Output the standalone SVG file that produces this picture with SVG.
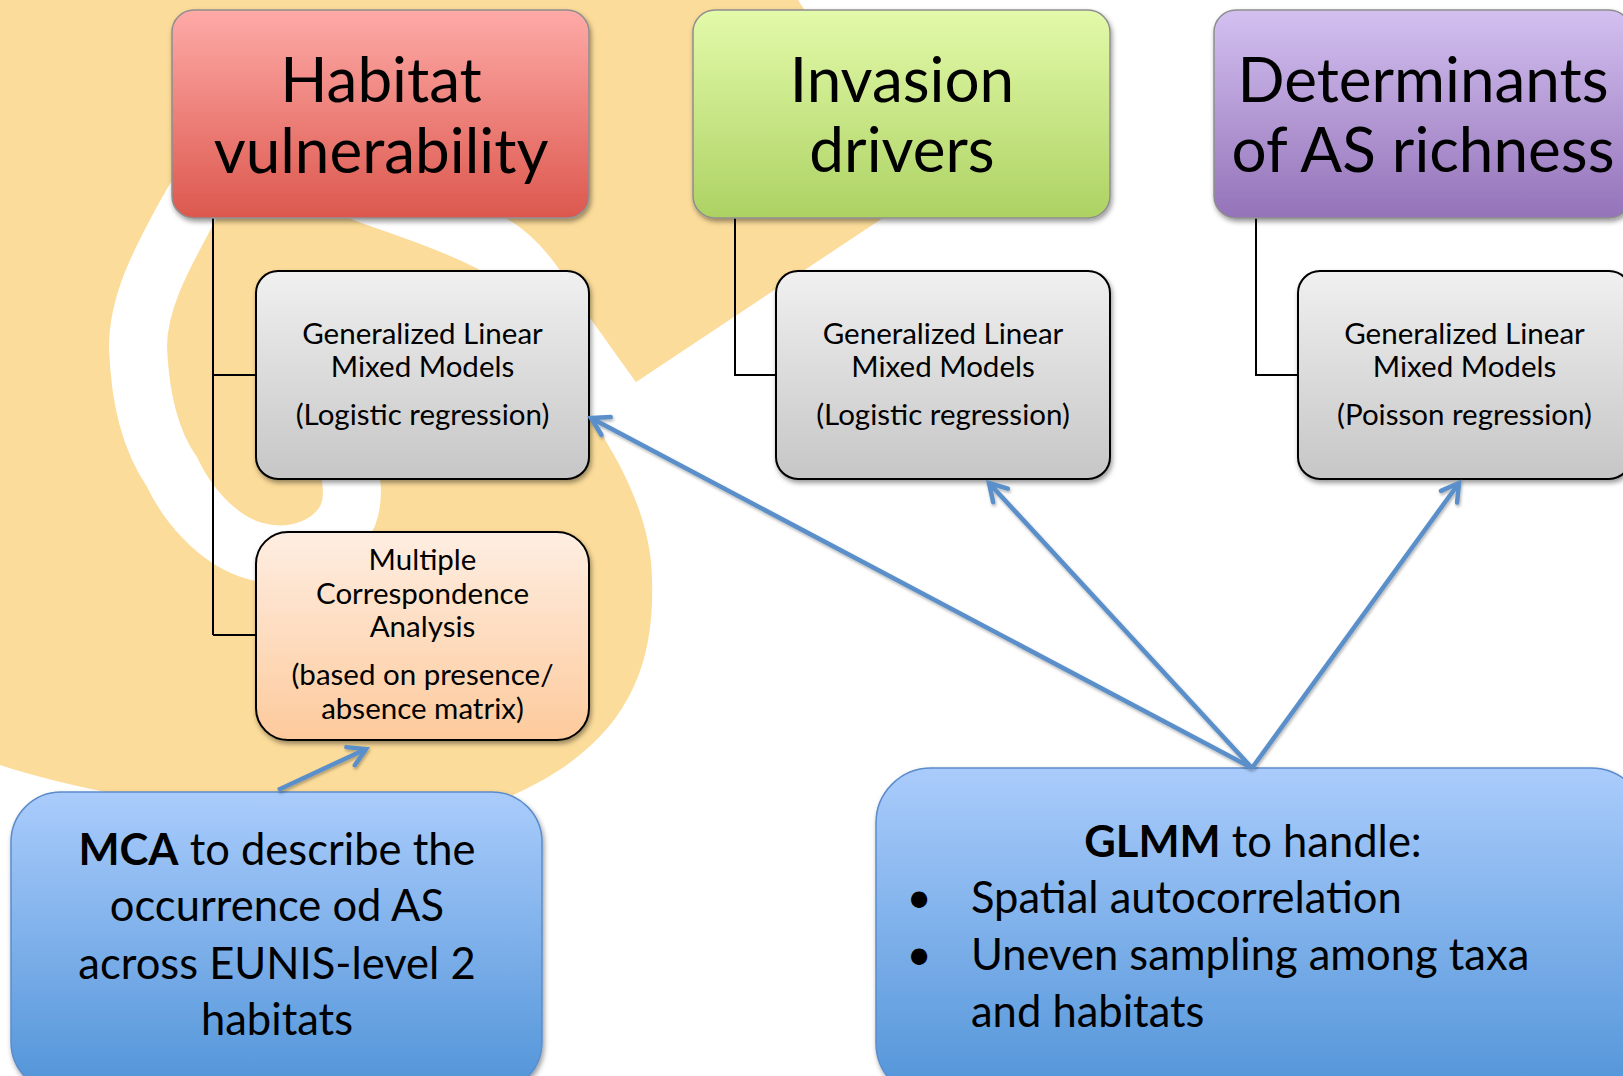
<svg xmlns="http://www.w3.org/2000/svg" width="1623" height="1076" viewBox="0 0 1623 1076">
<defs>
<style>
.t{font-family:Lato,"Liberation Sans",sans-serif;fill:#000;text-anchor:middle}
.hd{font-size:62px}
.sb{font-size:29.5px}
.bl{font-size:43.5px}
.lft{text-anchor:start}
.hbox{stroke:#8e8e8e;stroke-width:1.5}
.sbox{stroke:#000;stroke-width:2}
.bbox{stroke:#5b8ccb;stroke-width:1.5}
.tree{fill:none;stroke:#000;stroke-width:2}
.arr{fill:none;stroke:#5a8fca;stroke-width:4.5;marker-end:url(#ah)}
</style>
<linearGradient id="gRed" x1="0" y1="0" x2="0" y2="1"><stop offset="0" stop-color="#feaaa7"/><stop offset="1" stop-color="#dc584e"/></linearGradient>
<linearGradient id="gGreen" x1="0" y1="0" x2="0" y2="1"><stop offset="0" stop-color="#e3faaa"/><stop offset="1" stop-color="#add263"/></linearGradient>
<linearGradient id="gPurple" x1="0" y1="0" x2="0" y2="1"><stop offset="0" stop-color="#d3c0f0"/><stop offset="1" stop-color="#9473b9"/></linearGradient>
<linearGradient id="gGray" x1="0" y1="0" x2="0" y2="1"><stop offset="0" stop-color="#f0f0f0"/><stop offset="1" stop-color="#c6c6c6"/></linearGradient>
<linearGradient id="gPeach" x1="0" y1="0" x2="0" y2="1"><stop offset="0" stop-color="#feeee2"/><stop offset="1" stop-color="#fdca9c"/></linearGradient>
<linearGradient id="gBlue" x1="0" y1="0" x2="0" y2="1"><stop offset="0" stop-color="#aaccfc"/><stop offset="1" stop-color="#5194d8"/></linearGradient>
<filter id="sh" x="-10%" y="-10%" width="120%" height="130%"><feDropShadow dx="1.5" dy="3" stdDeviation="2.5" flood-color="#000" flood-opacity="0.4"/></filter>
<filter id="lsh" x="-10%" y="-10%" width="120%" height="130%"><feDropShadow dx="1" dy="2" stdDeviation="1.5" flood-color="#000" flood-opacity="0.3"/></filter>
<marker id="ah" markerUnits="userSpaceOnUse" viewBox="-22 -14 26 28" markerWidth="26" markerHeight="28" refX="0" refY="0" orient="auto" overflow="visible">
<path d="M-17,-10 L0,0 L-17,10" fill="none" stroke="#5a8fca" stroke-width="4.5" stroke-linecap="round" stroke-linejoin="miter"/>
</marker>
</defs>
<rect width="1623" height="1076" fill="#fff"/>
<g id="background">
<path d="M0,0 L798,0 L922,192 L606,402 L604,438 C630,480 652,530 652,580 C655,670 625,745 513,795 C420,835 150,815 0,765 Z" fill="#fcdc9a"/>
<path d="M650,448 L625,416 C600,383 585,360 567,336 C545,300 525,262 491,243 C450,222 405,208 364,193 C330,180 300,155 265,152 C230,150 203,182 186,214 C164,255 138,300 138,347 C140,400 150,440 172,472 C185,500 215,540 255,551 C295,562 335,545 348,515 C356,495 350,470 345,450" fill="none" stroke="#fff" stroke-width="58"/>
</g>
<g id="tree-connectors">
<path class="tree" d="M213,218 V635 M213,375 H256 M213,635 H256"/>
<path class="tree" d="M735,218 V375 H776"/>
<path class="tree" d="M1256,218 V375 H1298"/>
</g>
<g id="node-habitat">
<rect x="172" y="10" width="417" height="208" rx="22" fill="url(#gRed)" class="hbox" filter="url(#sh)"/>
<text class="t hd" x="381" y="102">Habitat</text>
<text class="t hd" x="381" y="173">vulnerability</text>
</g>
<g id="node-invasion">
<rect x="693" y="10" width="417" height="208" rx="22" fill="url(#gGreen)" class="hbox" filter="url(#sh)"/>
<text class="t hd" x="902" y="102">Invasion</text>
<text class="t hd" x="902" y="172">drivers</text>
</g>
<g id="node-determinants">
<rect x="1214" y="10" width="417" height="208" rx="22" fill="url(#gPurple)" class="hbox" filter="url(#sh)"/>
<text class="t hd" x="1423" y="102">Determinants</text>
<text class="t hd" x="1423" y="172">of AS richness</text>
</g>
<g id="node-glmm1">
<rect x="256" y="271" width="333" height="208" rx="22" fill="url(#gGray)" class="sbox" filter="url(#sh)"/>
<text class="t sb" x="422.5" y="344">Generalized Linear</text>
<text class="t sb" x="422.5" y="377">Mixed Models</text>
<text class="t sb" x="422.5" y="425">(Logistic regression)</text>
</g>
<g id="node-glmm2">
<rect x="776" y="271" width="334" height="208" rx="22" fill="url(#gGray)" class="sbox" filter="url(#sh)"/>
<text class="t sb" x="943" y="344">Generalized Linear</text>
<text class="t sb" x="943" y="377">Mixed Models</text>
<text class="t sb" x="943" y="425">(Logistic regression)</text>
</g>
<g id="node-glmm3">
<rect x="1298" y="271" width="333" height="208" rx="22" fill="url(#gGray)" class="sbox" filter="url(#sh)"/>
<text class="t sb" x="1464.5" y="344">Generalized Linear</text>
<text class="t sb" x="1464.5" y="377">Mixed Models</text>
<text class="t sb" x="1464.5" y="425">(Poisson regression)</text>
</g>
<g id="node-mca">
<rect x="256" y="532" width="333" height="208" rx="32" fill="url(#gPeach)" class="sbox" filter="url(#sh)"/>
<text class="t sb" x="422.5" y="570">Multiple</text>
<text class="t sb" x="422.5" y="604">Correspondence</text>
<text class="t sb" x="422.5" y="637">Analysis</text>
<text class="t sb" x="422.5" y="685">(based on presence/</text>
<text class="t sb" x="422.5" y="719">absence matrix)</text>
</g>
<g id="node-mca-note">
<rect x="11" y="792" width="531" height="300" rx="50" fill="url(#gBlue)" class="bbox" filter="url(#sh)"/>
<text class="t bl" x="277" y="865"><tspan font-weight="bold">MCA</tspan> to describe the</text>
<text class="t bl" x="277" y="921">occurrence od AS</text>
<text class="t bl" x="277" y="979">across EUNIS-level 2</text>
<text class="t bl" x="277" y="1035">habitats</text>
</g>
<g id="node-glmm-note">
<rect x="876" y="768" width="770" height="330" rx="55" fill="url(#gBlue)" class="bbox" filter="url(#sh)"/>
<text class="t bl" x="1253" y="857"><tspan font-weight="bold">GLMM</tspan> to handle:</text>
<text class="t bl" x="919" y="913">•</text>
<text class="t bl lft" x="971" y="913">Spatial autocorrelation</text>
<text class="t bl" x="919" y="970">•</text>
<text class="t bl lft" x="971" y="970">Uneven sampling among taxa</text>
<text class="t bl lft" x="971" y="1027">and habitats</text>
</g>
<g id="arrow-connectors" filter="url(#lsh)">
<line class="arr" x1="1252" y1="768" x2="591" y2="418"/>
<line class="arr" x1="1252" y1="768" x2="989" y2="483"/>
<line class="arr" x1="1252" y1="768" x2="1459" y2="483"/>
<line class="arr" x1="278" y1="790" x2="366" y2="749"/>
</g>
</svg>
